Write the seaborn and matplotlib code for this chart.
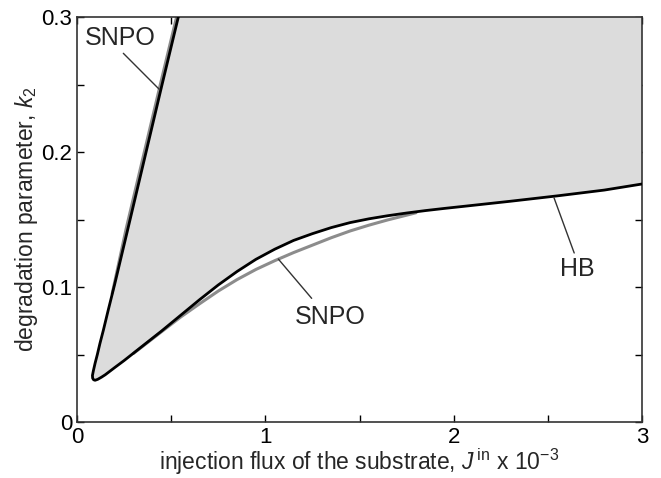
import matplotlib
matplotlib.use("Agg")
import matplotlib.pyplot as plt
import seaborn as sns
import pandas as pd

# Black boundary (left SNPO branch -> cusp -> lower branch -> HB)
black_x = [0.538, 0.45, 0.36, 0.27, 0.20, 0.166, 0.14, 0.122, 0.108, 0.096, 0.087, 0.082,
           0.083, 0.088, 0.096, 0.11, 0.13, 0.15, 0.20, 0.25, 0.35, 0.45, 0.55, 0.65, 0.75,
           0.85, 0.95, 1.05, 1.15, 1.25, 1.35, 1.45, 1.55, 1.65, 1.75, 1.85, 1.95, 2.05,
           2.3, 2.55, 2.8, 3.0]
black_y = [0.300, 0.249, 0.196, 0.143, 0.102, 0.083, 0.068, 0.0583, 0.050, 0.0435, 0.038, 0.0345,
           0.0325, 0.0313, 0.0309, 0.0316, 0.0332, 0.035, 0.0403, 0.0455, 0.0565, 0.0675, 0.0790, 0.0905, 0.1015,
           0.1115, 0.1205, 0.1280, 0.1345, 0.1395, 0.1440, 0.1477, 0.1505, 0.1528, 0.1548, 0.1566, 0.1582, 0.1597,
           0.1635, 0.1675, 0.1718, 0.1763]

# Grey SNPO curves
snpo_left_x = [0.186, 0.260, 0.350, 0.440, 0.528]
snpo_left_y = [0.095, 0.143, 0.196, 0.249, 0.300]
snpo_low_x = [0.30, 0.45, 0.55, 0.65, 0.75, 0.85, 0.95, 1.05, 1.15, 1.25, 1.35, 1.45, 1.55, 1.65, 1.75, 1.80]
snpo_low_y = [0.0508, 0.0670, 0.0777, 0.0875, 0.0970, 0.1055, 0.1130, 0.1195, 0.1255, 0.1310, 0.1365,
              0.1415, 0.1458, 0.1497, 0.1532, 0.1550]

# Label texts / anchor positions
label_txt = ["SNPO", "SNPO", "HB"]
label_x = [0.228, 1.344, 2.655]
label_y = [0.2844, 0.078, 0.1133]
lead_x0 = [0.246, 1.246, 2.64]
lead_y0 = [0.2731, 0.0916, 0.1252]
lead_x1 = [0.437, 1.069, 2.533]
lead_y1 = [0.2464, 0.1207, 0.166]

sns.set_theme(style="ticks")
plt.rcParams["font.family"] = ["Liberation Sans", "DejaVu Sans"]
plt.rcParams["mathtext.fontset"] = "custom"
plt.rcParams["mathtext.rm"] = "Liberation Sans"
plt.rcParams["mathtext.it"] = "Liberation Sans:italic"

fig = plt.figure(figsize=(6.61, 4.78), dpi=100)
ax = fig.add_axes([77/661, 1-422/478, 565/661, 405/478])

# shaded region
fx = black_x + [3.0, 0.538]
fy = black_y + [0.3, 0.3]
ax.fill(fx, fy, color="#dcdcdc", lw=0, zorder=1)

df_bl = pd.DataFrame({"x": black_x, "y": black_y})
df_sl = pd.DataFrame({"x": snpo_left_x, "y": snpo_left_y})
df_sw = pd.DataFrame({"x": snpo_low_x, "y": snpo_low_y})
common = dict(x="x", y="y", sort=False, estimator=None, errorbar=None, ax=ax)
sns.lineplot(data=df_sw, color="#8c8c8c", lw=2.2, zorder=2, **common)
sns.lineplot(data=df_sl, color="#8c8c8c", lw=2.0, zorder=2, **common)
sns.lineplot(data=df_bl, color="black", lw=2.0, zorder=3, **common)

ax.set_xlim(0, 3)
ax.set_ylim(0, 0.3)
ax.set_xticks([0, 1, 2, 3])
ax.set_xticklabels(["0", "1", "2", "3"])
ax.set_xticks([0.5, 1.5, 2.5], minor=True)
ax.set_yticks([0, 0.1, 0.2, 0.3])
ax.set_yticklabels(["0", "0.1", "0.2", "0.3"])
ax.set_yticks([0.05, 0.15, 0.25], minor=True)
ax.tick_params(which="both", direction="in", length=5, width=1, top=True, right=True,
               labelsize=16, colors="black")
for s in ax.spines.values():
    s.set_linewidth(1.2)
    s.set_color("#333333")

ax.set_xlabel(r"injection flux of the substrate, $\mathit{J}^{\,\mathrm{in}}$ x 10$^{-3}$",
              fontsize=16.5, labelpad=-1)
ax.set_ylabel(r"degradation parameter, $\mathit{k}_{2}$", fontsize=16.5, labelpad=1)

# annotations
for t, x, y in zip(label_txt, label_x, label_y):
    ax.text(x, y, t, fontsize=18, ha="center", va="center", zorder=5)
for x0, y0, x1, y1 in zip(lead_x0, lead_y0, lead_x1, lead_y1):
    ax.plot([x0, x1], [y0, y1], color="#333333", lw=1, zorder=5)

fig.savefig("out.png", dpi=100)
